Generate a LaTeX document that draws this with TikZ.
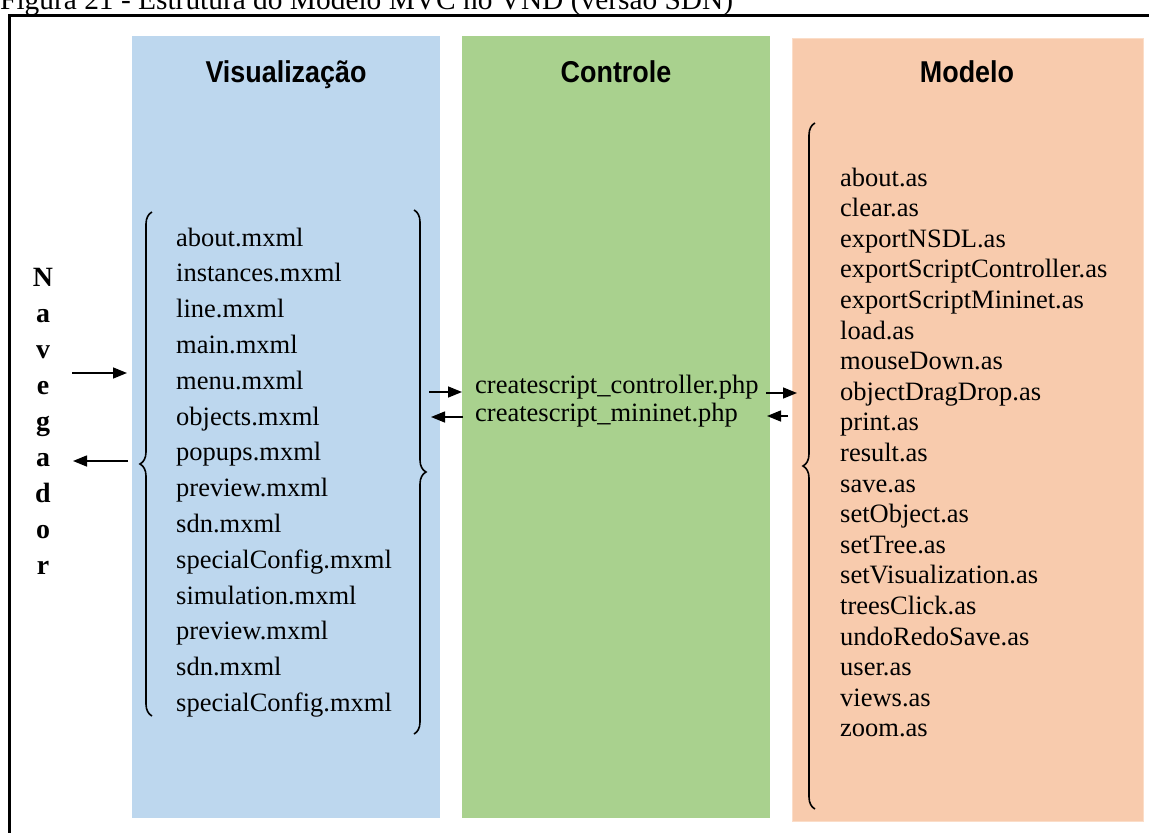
\documentclass[tikz,border=0pt]{standalone}
\usepackage{fontspec}
\setmainfont{Liberation Serif}
\newfontfamily\headfont{Liberation Sans}
\usetikzlibrary{arrows.meta,decorations.pathreplacing}
\definecolor{viewblue}{RGB}{189,215,238}
\definecolor{ctrlgreen}{RGB}{169,209,142}
\definecolor{modelorange}{RGB}{248,203,173}
\definecolor{modeledge}{RGB}{251,221,200}
\begin{document}
\begin{tikzpicture}[x=1bp,y=-1bp,
  col/.style={inner sep=0, outer sep=0, anchor=north west},
  head/.style={font=\headfont\bfseries\fontsize{27}{32}\selectfont, anchor=base, inner sep=0, yscale=1.12},
  item/.style={font=\fontsize{26.6}{30}\selectfont, anchor=base west, inner sep=0},
  letter/.style={font=\bfseries\fontsize{28}{32}\selectfont, anchor=base, inner sep=0},
  flow/.style={line width=1.5bp, -{Triangle[length=14bp,width=11bp]}},
  curly/.style={decorate, decoration={brace, amplitude=12bp}, line width=1.6bp}
]
\useasboundingbox (0,0) rectangle (1149,833);

% caption and outer frame
\node[font=\fontsize{29.5}{34}\selectfont, anchor=base west, inner sep=0] (caption) at (0,9)
  {Figura 21 - Estrutura do Modelo MVC no VND (versão SDN)};
\draw[line width=3bp] (9,860) -- (9,15) -- (1170,15);

% the three layers
\node[col, fill=viewblue, minimum width=308bp, minimum height=782bp] (view) at (132,36) {};
\node[col, fill=ctrlgreen, minimum width=308bp, minimum height=782bp] (ctrl) at (462,36) {};
\node[col, fill=modelorange, draw=modeledge, line width=1bp, minimum width=351bp, minimum height=783bp] (model) at (792,38) {};

\node[head] (viewhead)  at (286,82) {Visualização};
\node[head] (ctrlhead)  at (616,82) {Controle};
\node[head] (modelhead) at (967,82) {Modelo};

% browser, written vertically
\foreach \c [count=\i] in {N,a,v,e,g,a,d,o,r}
  \node[letter] (nav\i) at (43,{286+36*(\i-1)}) {\c};

% view files
\foreach \t [count=\i] in {about.mxml,instances.mxml,line.mxml,main.mxml,menu.mxml,
    objects.mxml,popups.mxml,preview.mxml,sdn.mxml,specialConfig.mxml,
    simulation.mxml,preview.mxml,sdn.mxml,specialConfig.mxml}
  \node[item] (v\i) at (176,{246+35.8*(\i-1)}) {\t};

% controller scripts
\node[item] (c1) at (475,393) {createscript\_controller.php};
\node[item] (c2) at (475,421) {createscript\_mininet.php};

% model files
\foreach \t [count=\i] in {about.as,clear.as,exportNSDL.as,exportScriptController.as,
    exportScriptMininet.as,load.as,mouseDown.as,objectDragDrop.as,print.as,result.as,
    save.as,setObject.as,setTree.as,setVisualization.as,treesClick.as,undoRedoSave.as,
    user.as,views.as,zoom.as}
  \node[item] (m\i) at (840,{186+30.6*(\i-1)}) {\t};

% braces grouping the files
\draw[curly] (152,716) -- (152,212);
\draw[curly] (414,210) -- (414,734);
\draw[curly] (815,809) -- (815,123);

% request / response arrows
\coordinate (navout) at (72,373);
\coordinate (viewin) at (127,373);
\coordinate (viewout) at (128,461);
\coordinate (navin) at (73,461);
\draw[flow] (navout) -- (viewin);
\draw[flow] (viewout) -- (navin);

\coordinate (vc1) at (429,392);
\coordinate (vc2) at (462,392);
\coordinate (cv1) at (463,417);
\coordinate (cv2) at (431,417);
\draw[flow] (vc1) -- (vc2);
\draw[flow] (cv1) -- (cv2);

\coordinate (cm1) at (766,393);
\coordinate (cm2) at (797,393);
\coordinate (mc1) at (788,416);
\coordinate (mc2) at (767,416);
\draw[flow] (cm1) -- (cm2);
\draw[flow] (mc1) -- (mc2);
\end{tikzpicture}
\end{document}
